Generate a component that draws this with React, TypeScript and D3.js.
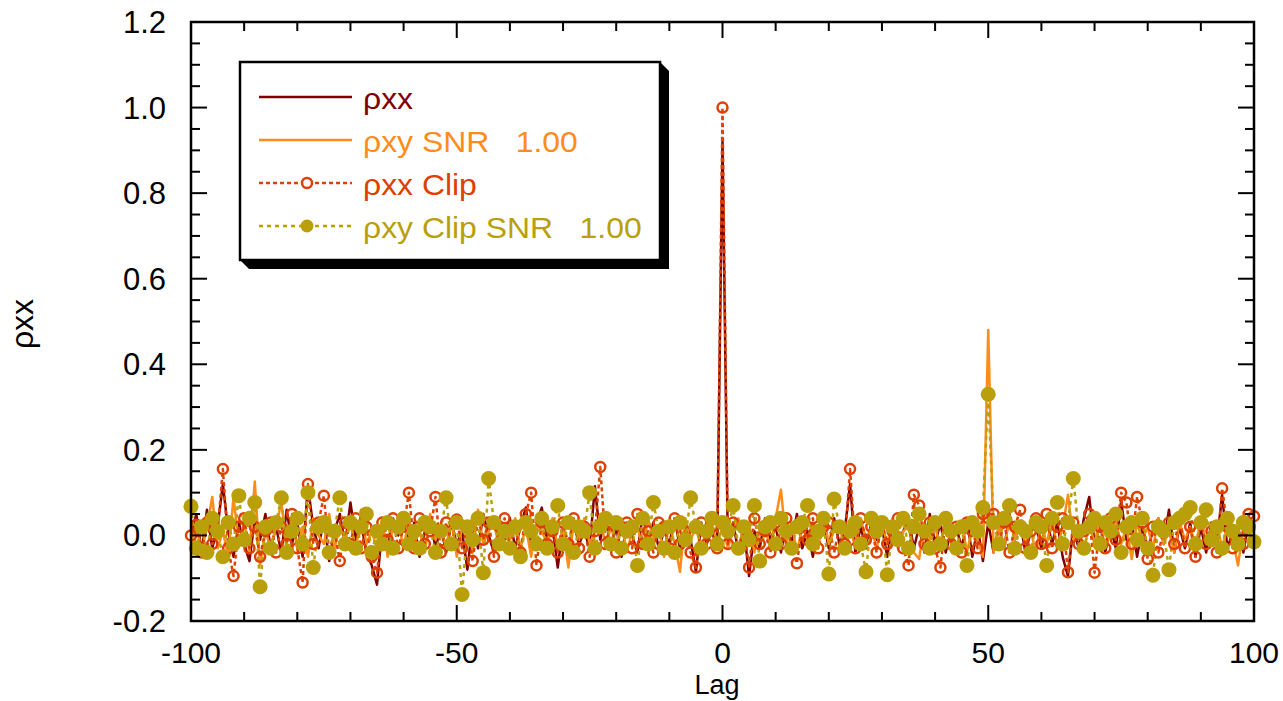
import React from 'react';
import * as d3 from 'd3';

const width = 1283;
const height = 701;
const margin = { top: 22, right: 29, bottom: 80, left: 191 };

// lags -100 .. 100
const lags = d3.range(-100, 101);

const rhoXX = [
  0.00, 0.05, -0.04, 0.06, -0.03, 0.02, 0.12, 0.01, -0.05, 0.03,
  -0.02, -0.06, 0.04, -0.01, 0.05, -0.03, 0.02, -0.04, 0.06, -0.02,
  0.03, -0.05, 0.115, 0.02, -0.03, 0.04, -0.06, 0.01, 0.05, -0.02,
  0.077, -0.01, 0.03, -0.04, -0.07, -0.115, 0.02, -0.03, 0.04, 0.00,
  0.05, -0.02, 0.03, -0.05, 0.01, 0.04, -0.03, 0.02, -0.04, 0.03,
  -0.02, 0.01, -0.08, 0.03, -0.03, 0.05, 0.00, -0.04, 0.02, -0.01,
  0.04, -0.03, 0.02, 0.065, -0.02, 0.03, 0.065, -0.01, 0.02, -0.075,
  0.02, -0.04, 0.03, -0.02, 0.01, -0.03, 0.115, -0.01, 0.04, -0.03,
  0.02, -0.05, 0.03, 0.00, -0.04, 0.05, -0.02, 0.03, -0.03, 0.01,
  -0.02, 0.04, -0.03, 0.02, -0.01, -0.085, 0.03, -0.02, 0.01, -0.03,
  0.92, -0.02, 0.03, -0.04, 0.02, -0.095, 0.01, -0.03, 0.04, -0.01,
  0.02, -0.04, 0.03, -0.02, 0.05, -0.03, 0.01, -0.05, 0.02, 0.03,
  -0.03, 0.04, -0.02, 0.01, 0.12, -0.04, 0.02, -0.03, 0.03, -0.01,
  0.02, -0.05, 0.03, -0.02, 0.01, 0.04, -0.03, 0.02, -0.04, 0.05,
  -0.02, 0.03, -0.04, 0.01, 0.02, -0.03, 0.04, -0.05, 0.02, -0.06,
  0.03, -0.04, 0.02, -0.03, 0.05, -0.01, 0.03, -0.04, 0.01, 0.02,
  -0.03, 0.04, -0.02, 0.03, -0.05, -0.095, 0.02, -0.03, 0.04, 0.09,
  -0.02, 0.03, -0.04, 0.02, -0.03, 0.08, -0.01, 0.03, -0.05, 0.02,
  -0.03, 0.01, 0.04, -0.02, 0.06, -0.04, 0.02, -0.03, 0.03, -0.05,
  0.02, -0.04, 0.03, -0.02, 0.095, -0.03, 0.01, 0.02, -0.04, 0.03,
  0.01,
];

const rhoXY = [
  -0.02, 0.03, -0.04, 0.02, 0.09, -0.03, 0.01, -0.05, 0.09, -0.02,
  0.03, -0.04, 0.126, -0.07, 0.01, -0.03, 0.02, 0.077, -0.02, 0.04,
  -0.03, 0.02, -0.05, 0.04, 0.00, -0.02, 0.05, -0.03, 0.02, -0.01,
  0.03, -0.04, 0.06, -0.02, 0.01, -0.03, 0.04, -0.05, 0.02, 0.03,
  -0.03, 0.04, -0.02, 0.01, -0.04, 0.05, -0.01, 0.02, -0.03, 0.04,
  -0.05, 0.02, 0.03, -0.04, 0.06, -0.02, 0.01, 0.03, -0.03, 0.02,
  -0.01, 0.04, -0.03, 0.02, -0.05, 0.03, 0.01, -0.02, 0.04, -0.03,
  0.02, -0.075, 0.03, -0.01, 0.04, -0.02, 0.01, 0.05, -0.03, 0.02,
  -0.02, 0.03, -0.04, 0.01, 0.02, -0.03, 0.04, -0.01, 0.02, -0.05,
  0.03, -0.02, -0.085, 0.04, -0.01, 0.02, -0.03, 0.01, 0.03, -0.02,
  0.02, -0.03, 0.01, 0.04, -0.02, 0.03, -0.04, 0.01, 0.02, -0.03,
  0.04, 0.107, -0.02, 0.03, -0.04, 0.02, -0.01, 0.03, -0.03, 0.05,
  -0.02, 0.01, 0.03, -0.04, 0.02, -0.03, 0.04, -0.01, 0.02, -0.03,
  0.03, -0.02, 0.04, -0.03, 0.01, 0.02, -0.04, -0.055, 0.03, -0.01,
  0.02, -0.03, 0.04, -0.02, 0.01, 0.03, -0.04, 0.02, -0.01, -0.05,
  0.48, -0.04, 0.02, -0.03, 0.04, -0.01, 0.03, -0.02, 0.01, -0.04,
  0.03, -0.02, 0.04, -0.03, 0.02, 0.095, -0.01, 0.02, -0.04, 0.03,
  -0.02, 0.04, -0.03, 0.01, 0.03, -0.02, 0.02, -0.055, 0.03, -0.01,
  0.02, -0.03, 0.04, -0.02, 0.01, -0.04, 0.03, -0.01, 0.02, -0.03,
  0.04, -0.02, 0.01, 0.03, -0.03, 0.02, -0.01, -0.07, 0.02, 0.01,
  -0.02,
];

const rhoXXClip = [
  0.00, 0.025, -0.04, 0.03, -0.02, 0.01, 0.155, -0.03, -0.095, 0.02,
  0.04, -0.03, 0.02, -0.05, 0.01, 0.03, -0.04, 0.02, -0.02, 0.05,
  -0.03, -0.11, 0.12, -0.02, 0.03, 0.093, -0.04, 0.01, -0.06, 0.03,
  -0.02, 0.04, -0.03, 0.02, -0.05, -0.087, 0.03, -0.01, 0.04, -0.03,
  0.02, 0.10, -0.03, 0.04, -0.02, 0.01, 0.09, -0.04, 0.03, -0.02,
  0.037, -0.03, 0.02, -0.06, 0.04, -0.01, 0.03, -0.05, 0.02, 0.04,
  -0.03, 0.02, -0.04, 0.05, 0.10, -0.07, 0.03, -0.02, 0.01, -0.04,
  0.03, -0.02, 0.04, -0.03, 0.02, -0.05, 0.01, 0.16, -0.02, 0.03,
  -0.04, 0.02, 0.03, -0.03, 0.05, -0.02, 0.01, -0.04, 0.03, 0.02,
  -0.03, 0.04, -0.02, 0.01, -0.04, -0.075, 0.03, -0.02, 0.02, -0.03,
  1.00, -0.02, 0.03, -0.03, 0.02, -0.075, 0.04, -0.02, 0.01, -0.04,
  0.03, -0.02, 0.04, -0.03, -0.065, 0.02, -0.01, 0.04, -0.03, 0.02,
  0.03, -0.04, 0.02, -0.02, 0.155, -0.03, 0.04, -0.01, 0.02, -0.04,
  0.03, -0.02, 0.01, 0.04, -0.03, -0.07, 0.095, 0.07, -0.02, 0.03,
  -0.03, -0.075, 0.04, -0.02, 0.02, -0.04, 0.03, 0.01, -0.03, 0.05,
  0.04, 0.05, -0.02, 0.03, -0.04, 0.02, 0.06, -0.03, 0.01, 0.04,
  -0.02, 0.05, -0.03, 0.02, 0.04, -0.086, 0.03, -0.02, 0.01, 0.05,
  -0.087, 0.02, -0.03, 0.04, -0.01, 0.10, 0.077, -0.02, 0.09, 0.03,
  -0.055, 0.02, -0.04, 0.01, 0.03, -0.02, 0.04, -0.03, 0.02, -0.05,
  0.03, -0.02, 0.01, -0.04, 0.11, 0.02, -0.03, 0.01, -0.02, 0.05,
  0.045,
];

const rhoXYClip = [
  0.068, -0.03, 0.02, -0.04, 0.04, 0.01, -0.05, 0.03, -0.02, 0.093,
  -0.01, 0.04, 0.077, -0.12, 0.02, -0.03, 0.03, 0.088, -0.04, 0.01,
  0.04, -0.02, 0.10, -0.075, 0.02, 0.03, -0.04, 0.01, 0.088, -0.02,
  0.03, -0.03, 0.02, 0.05, -0.04, 0.01, -0.02, 0.03, -0.03, 0.02,
  0.04, -0.02, 0.01, -0.03, 0.03, 0.02, -0.04, 0.01, 0.088, -0.02,
  0.03, -0.138, 0.02, -0.01, 0.04, -0.087, 0.133, 0.03, -0.02, 0.01,
  -0.03, 0.02, -0.05, 0.03, 0.01, -0.02, 0.04, -0.03, 0.02, 0.07,
  -0.02, 0.03, -0.04, 0.02, 0.01, 0.10, -0.03, 0.02, 0.04, -0.02,
  0.03, -0.03, 0.01, 0.02, -0.07, 0.04, -0.02, 0.077, 0.01, -0.03,
  0.02, -0.04, 0.03, -0.01, 0.088, 0.02, -0.03, 0.01, 0.04, -0.02,
  0.03, 0.01, 0.07, -0.03, 0.02, -0.01, 0.07, -0.06, 0.02, 0.03,
  -0.02, 0.04, 0.01, -0.03, 0.02, 0.03, 0.07, -0.02, 0.01, 0.04,
  -0.09, 0.085, 0.02, -0.03, 0.01, 0.03, -0.02, -0.085, 0.04, 0.01,
  0.03, -0.092, 0.02, -0.01, 0.04, -0.03, 0.02, 0.05, 0.01, -0.03,
  0.03, -0.02, 0.04, 0.01, -0.03, 0.02, -0.07, 0.03, 0.01, 0.065,
  0.33, 0.03, -0.02, 0.04, 0.07, -0.03, 0.02, 0.01, -0.04, 0.03,
  0.02, -0.07, 0.04, 0.077, -0.02, 0.03, 0.133, 0.01, -0.03, 0.02,
  0.04, -0.02, 0.03, 0.01, 0.05, -0.04, 0.02, 0.03, -0.01, 0.04,
  -0.03, -0.093, 0.02, 0.01, -0.08, 0.03, 0.04, 0.05, 0.065, -0.02,
  0.03, 0.06, -0.01, 0.02, -0.03, 0.04, 0.01, -0.02, 0.03, 0.02,
  -0.015,
];

const xMajor = [-100, -50, 0, 50, 100];
const yMajor = [-0.2, 0.0, 0.2, 0.4, 0.6, 0.8, 1.0, 1.2];

const font = "'Liberation Sans', Arial, sans-serif";

const series = [
  { label: 'ρxx', values: rhoXX, color: '#800000', dash: null, marker: null },
  { label: 'ρxy SNR   1.00', values: rhoXY, color: '#ff8c1a', dash: null, marker: null },
  { label: 'ρxx Clip', values: rhoXXClip, color: '#dd4000', dash: '4,3', marker: 'open' },
  { label: 'ρxy Clip SNR   1.00', values: rhoXYClip, color: '#b9a00a', dash: '4,4', marker: 'filled' },
];

export default function App() {
  const x = d3.scaleLinear().domain([-100, 100]).range([margin.left, width - margin.right]);
  const y = d3.scaleLinear().domain([-0.2, 1.2]).range([height - margin.bottom, margin.top]);

  const left = margin.left;
  const right = width - margin.right;
  const top = margin.top;
  const bottom = height - margin.bottom;

  const xMinor = d3.range(-100, 101, 10);
  const yMinor = d3.range(-0.2, 1.2001, 0.05);

  const line = (vals: number[]) =>
    d3.line<number>()
      .x((_, i) => x(lags[i]))
      .y(d => y(d))(vals) || '';

  const legendLeft = 240;
  const legendTop = 62;
  const legendW = 420;
  const legendH = 198;
  const sh = 9;

  return (
    <svg width={width} height={height} style={{ position: 'absolute', left: 0, top: 0, background: '#fff' }}>
      {/* series */}
      {series.map((s, si) => (
        <path key={si} d={line(s.values)} fill="none" stroke={s.color} strokeWidth={2.5}
          strokeDasharray={s.dash || undefined} strokeLinejoin="round" />
      ))}
      {series.map((s, si) => s.marker && (
        <g key={'m' + si}>
          {s.values.map((v, i) => s.marker === 'open'
            ? <circle key={i} cx={x(lags[i])} cy={y(v)} r={5} fill="none" stroke={s.color} strokeWidth={2.5} />
            : <circle key={i} cx={x(lags[i])} cy={y(v)} r={7.5} fill={s.color} />)}
        </g>
      ))}

      {/* frame and ticks, inside on all four sides */}
      <rect x={left} y={top} width={right - left} height={bottom - top} fill="none" stroke="#000" strokeWidth={2.5} />
      {xMinor.map(t => {
        const len = xMajor.includes(t) ? 16 : 9;
        return (
          <g key={'xt' + t} stroke="#000" strokeWidth={2}>
            <line x1={x(t)} x2={x(t)} y1={bottom} y2={bottom - len} />
            <line x1={x(t)} x2={x(t)} y1={top} y2={top + len} />
          </g>
        );
      })}
      {yMinor.map((t, i) => {
        const len = i % 4 === 0 ? 16 : 9;
        return (
          <g key={'yt' + i} stroke="#000" strokeWidth={2}>
            <line x1={left} x2={left + len} y1={y(t)} y2={y(t)} />
            <line x1={right} x2={right - len} y1={y(t)} y2={y(t)} />
          </g>
        );
      })}

      {/* tick labels */}
      {xMajor.map(t => (
        <text key={'xl' + t} x={x(t)} y={663} textAnchor="middle" fontFamily={font} fontSize={30} fill="#000">
          {t}
        </text>
      ))}
      {yMajor.map(t => (
        <text key={'yl' + t} x={166} y={y(t) + 11} textAnchor="end" fontFamily={font} fontSize={31} fill="#000">
          {t.toFixed(1)}
        </text>
      ))}
      <text x={717} y={694} textAnchor="middle" fontFamily={font} fontSize={27} fill="#000">Lag</text>
      <text transform="translate(33,324) rotate(-90)" textAnchor="middle" fontFamily={font} fontSize={32} fill="#000">ρxx</text>

      {/* legend with drop shadow */}
      <polygon
        points={`${legendLeft + legendW},${legendTop} ${legendLeft + legendW + sh},${legendTop + sh} ${legendLeft + legendW + sh},${legendTop + legendH + sh} ${legendLeft + sh},${legendTop + legendH + sh} ${legendLeft},${legendTop + legendH}`}
        fill="#000" />
      <rect x={legendLeft} y={legendTop} width={legendW} height={legendH} fill="#fff" stroke="#000" strokeWidth={2.5} />
      {series.map((s, i) => {
        const ry = 97 + i * 43;
        return (
          <g key={'lg' + i}>
            <line x1={259} x2={352} y1={ry} y2={ry} stroke={s.color} strokeWidth={2.5}
              strokeDasharray={s.dash || undefined} />
            {s.marker === 'open' && <circle cx={307} cy={ry} r={5} fill="#fff" stroke={s.color} strokeWidth={2.5} />}
            {s.marker === 'filled' && <circle cx={307} cy={ry} r={6.5} fill={s.color} />}
            <text transform={`translate(363,${ry + 12}) scale(1.1,1)`} fontFamily={font} fontSize={29}
              fill={s.color} style={{ whiteSpace: 'pre' }}>
              {s.label}
            </text>
          </g>
        );
      })}
    </svg>
  );
}
